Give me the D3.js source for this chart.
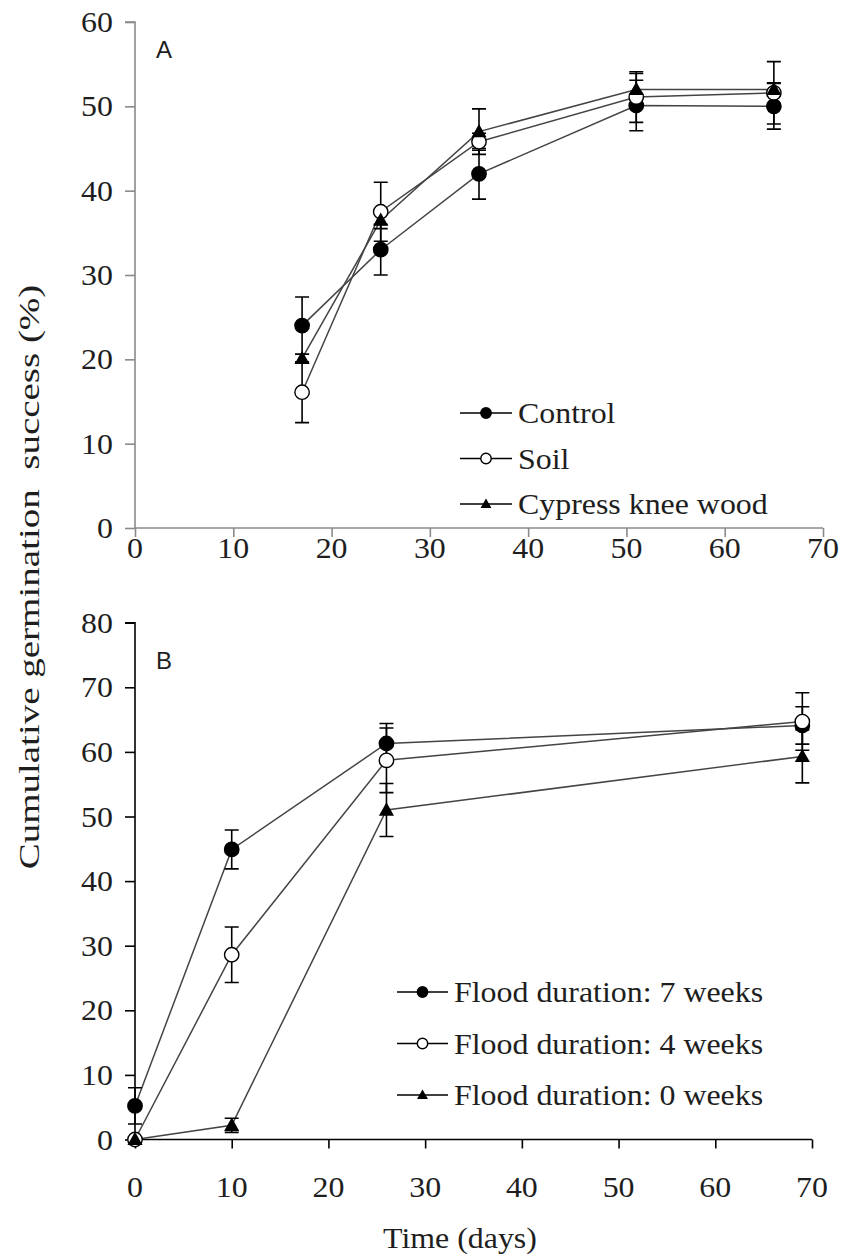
<!DOCTYPE html>
<html>
<head>
<meta charset="utf-8">
<script src="https://cdn.jsdelivr.net/npm/d3@7/dist/d3.min.js"></script>
<style>
  html, body { margin: 0; padding: 0; background: #fff; }
</style>
</head>
<body>
<svg id="chart" width="847" height="1256"></svg>
<script>
// Panel A: germination by substrate treatment
const daysA = [17, 25, 35, 51, 65];
const controlA = [24.0, 33.0, 42.0, 50.1, 50.0];
const controlErrA = [3.4, 3.0, 3.0, 3.0, 2.7];
const soilA = [16.1, 37.5, 45.8, 51.1, 51.6];
const soilErrA = [3.6, 3.5, 1.0, 3.0, 3.7];
const cypressA = [20.1, 36.5, 47.0, 52.0, 52.0];
const cypressErrA = [0.5, 1.0, 2.7, 1.9, 0.8];
const legendA = ["Control", "Soil", "Cypress knee wood"];

// Panel B: germination by flood duration
const daysB = [0, 10, 26, 69];
const flood7 = [5.2, 44.9, 61.3, 64.1];
const flood7Err = [2.8, 3.0, 3.1, 2.9];
const flood4 = [0, 28.6, 58.7, 64.7];
const flood4Err = [0, 4.3, 5.0, 4.45];
const flood0 = [0, 2.2, 51.0, 59.3];
const flood0Err = [0, 1.1, 4.1, 4.1];
const legendB = ["Flood duration: 7 weeks", "Flood duration: 4 weeks", "Flood duration: 0 weeks"];

const xTicks = [0, 10, 20, 30, 40, 50, 60, 70];
const yTicksA = [0, 10, 20, 30, 40, 50, 60];
const yTicksB = [0, 10, 20, 30, 40, 50, 60, 70, 80];

const SERIF = "'Liberation Serif', 'Times New Roman', serif";
const TEXT_FILL = "#1e1e1e";
const STRETCH = 1.1; // serif labels are set slightly wide

const svg = d3.select("#chart");
const markerKinds = ["filled", "open", "triangle"];

function drawMarker(g, kind, x, y, r) {
  if (kind === "triangle") {
    const h = r * 1.85, w = r * 2.1;
    g.append("path")
      .attr("d", `M${x},${y - h * 0.58}L${x + w / 2},${y + h * 0.42}L${x - w / 2},${y + h * 0.42}Z`)
      .attr("fill", "#000");
  } else {
    g.append("circle")
      .attr("cx", x).attr("cy", y).attr("r", r)
      .attr("fill", kind === "filled" ? "#000" : "#fff")
      .attr("stroke", "#000").attr("stroke-width", 1.4);
  }
}

// serif label placed at (x, y), widened horizontally around its anchor
function label(g, x, y, txt, size, anchor) {
  return g.append("text")
    .attr("transform", `translate(${x},${y}) scale(${STRETCH},1)`)
    .attr("text-anchor", anchor || "start")
    .style("font-family", SERIF)
    .style("font-size", size + "px")
    .attr("fill", TEXT_FILL)
    .text(txt);
}

function panel(cfg) {
  const x = d3.scaleLinear().domain([0, 70]).range(cfg.xRange);
  const y = d3.scaleLinear().domain(cfg.yDomain).range(cfg.yRange);
  const g = svg.append("g");

  const yAxis = g.append("g")
    .attr("transform", `translate(${cfg.xRange[0]},0)`)
    .call(d3.axisLeft(y).tickValues(cfg.yTicks).tickSize(10).tickFormat(() => ""));
  const xAxis = g.append("g")
    .attr("transform", `translate(0,${cfg.yRange[0]})`)
    .call(d3.axisBottom(x).tickValues(xTicks).tickSize(9).tickFormat(() => ""));
  [yAxis, xAxis].forEach(a => {
    a.select(".domain").attr("stroke", cfg.axisColor).attr("stroke-width", 1.6);
    a.selectAll(".tick line").attr("stroke", cfg.axisColor).attr("stroke-width", 1.6);
  });
  yAxis.select(".domain").attr("d", `M-10,${cfg.yRange[1]}H0V${cfg.yRange[0]}`);
  xAxis.select(".domain").attr("d", `M${cfg.xRange[0]},0H${cfg.xRange[1]}`);

  // tick labels from the same scales
  const fmt = d3.format("d");
  cfg.yTicks.forEach(t => label(g, cfg.xRange[0] - 22, y(t) + 10, fmt(t), 29, "end"));
  xTicks.forEach(t => label(g, x(t), cfg.yRange[0] + cfg.xLabelOffset, fmt(t), 29, "middle"));

  g.append("text")
    .attr("x", cfg.letterPos[0]).attr("y", cfg.letterPos[1])
    .style("font-family", "'Liberation Sans', Arial, sans-serif")
    .style("font-size", "24px")
    .attr("fill", TEXT_FILL)
    .text(cfg.letter);

  const line = d3.line().x(d => x(d[0])).y(d => y(d[1]));
  const plot = g.append("g");

  cfg.series.forEach(s => {
    const pts = cfg.days.map((d, j) => [d, s.values[j]]);
    plot.append("path").datum(pts)
      .attr("d", line).attr("fill", "none")
      .attr("stroke", "#444").attr("stroke-width", 1.5);
  });
  cfg.series.forEach(s => {
    cfg.days.forEach((d, j) => {
      const v = s.values[j], e = s.errs[j];
      if (e <= 0) return;
      const cx = x(d), y1 = y(v + e), y0 = y(v - e);
      plot.append("path")
        .attr("d", `M${cx},${y1}V${y0}M${cx - 7},${y1}H${cx + 7}M${cx - 7},${y0}H${cx + 7}`)
        .attr("stroke", "#000").attr("stroke-width", 1.6).attr("fill", "none");
    });
  });
  cfg.series.forEach((s, i) => {
    cfg.days.forEach((d, j) => drawMarker(plot, markerKinds[i], x(d), y(s.values[j]), 7.2));
  });

  // legend
  const lg = g.append("g");
  cfg.legend.forEach((txt, i) => {
    const ly = cfg.legendPos.y + i * cfg.legendPos.dy;
    lg.append("line")
      .attr("x1", cfg.legendPos.x0).attr("x2", cfg.legendPos.x1)
      .attr("y1", ly).attr("y2", ly)
      .attr("stroke", "#000").attr("stroke-width", 1.6);
    drawMarker(lg, markerKinds[i], (cfg.legendPos.x0 + cfg.legendPos.x1) / 2, ly, 5.2);
    label(lg, cfg.legendPos.x1 + 6, ly + 10, txt, 29, "start");
  });
}

panel({
  xRange: [135, 823], yDomain: [0, 60], yRange: [528, 22], yTicks: yTicksA,
  axisColor: "#8a8a8a", letter: "A", letterPos: [156, 58], xLabelOffset: 30,
  days: daysA,
  series: [
    { values: controlA, errs: controlErrA },
    { values: soilA, errs: soilErrA },
    { values: cypressA, errs: cypressErrA }
  ],
  legend: legendA,
  legendPos: { x0: 460, x1: 512, y: 413, dy: 45.5 }
});

panel({
  xRange: [135, 812], yDomain: [0, 80], yRange: [1139.5, 622.7], yTicks: yTicksB,
  axisColor: "#000", letter: "B", letterPos: [156, 669], xLabelOffset: 57,
  days: daysB,
  series: [
    { values: flood7, errs: flood7Err },
    { values: flood4, errs: flood4Err },
    { values: flood0, errs: flood0Err }
  ],
  legend: legendB,
  legendPos: { x0: 397, x1: 448, y: 992, dy: 51.5 }
});

// shared axis titles
svg.append("text")
  .attr("transform", "translate(39,577) rotate(-90) scale(1.3,1)")
  .attr("text-anchor", "middle")
  .style("font-family", SERIF)
  .style("font-size", "30px")
  .style("white-space", "pre")
  .attr("fill", TEXT_FILL)
  .text("Cumulative germination  success (%)");

label(svg, 460, 1248, "Time (days)", 29, "middle");
</script>
</body>
</html>
